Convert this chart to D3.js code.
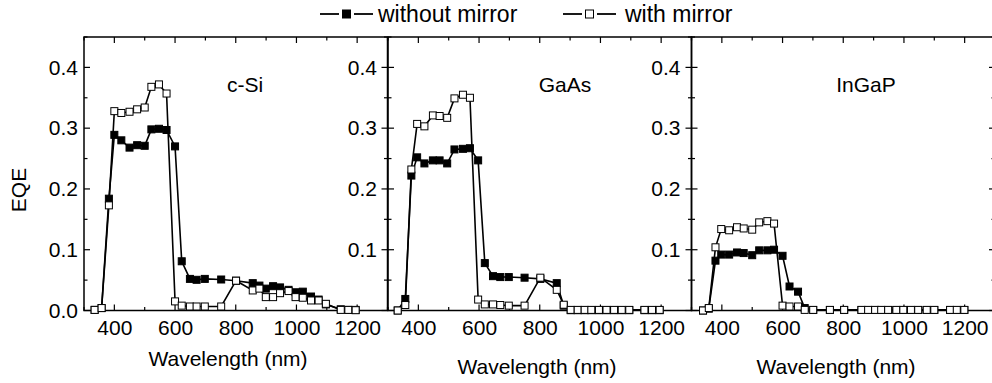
<!DOCTYPE html>
<html>
<head>
<meta charset="utf-8">
<script src="https://cdn.jsdelivr.net/npm/d3@7"></script>
<style>
  html, body { margin: 0; padding: 0; background: #fff; }
  svg { display: block; font-family: "Liberation Sans", Arial, sans-serif; }
  text { fill: #000; }
</style>
</head>
<body>
<svg id="chart" width="992" height="383"></svg>
<script>
// ---------------- DATA ----------------
const panelNames = ["c-Si", "GaAs", "InGaP"];
const seriesNames = ["without mirror", "with mirror"];
const xTickLabels = [400, 600, 800, 1000, 1200];
const yTickLabels = [0.0, 0.1, 0.2, 0.3, 0.4];

// c-Si
const cSiWl = [335, 358, 382, 400, 423, 450, 475, 500, 522, 547, 572, 600, 622, 649, 671, 698, 752, 801, 856, 878, 899, 923, 946, 974, 997, 1021, 1048, 1073, 1097, 1146, 1171, 1195];
const cSiWithout = [0.001, 0.004, 0.184, 0.289, 0.280, 0.268, 0.272, 0.271, 0.298, 0.299, 0.297, 0.270, 0.081, 0.052, 0.0505, 0.052, 0.051, 0.049, 0.045, 0.041, 0.036, 0.040, 0.038, 0.034, 0.030, 0.031, 0.023, 0.018, 0.010, 0.002, 0.001, 0.001];
const cSiWith = [0.001, 0.004, 0.173, 0.328, 0.325, 0.327, 0.331, 0.334, 0.368, 0.372, 0.357, 0.015, 0.008, 0.0066, 0.0066, 0.0066, 0.0066, 0.049, 0.033, 0.036, 0.022, 0.022, 0.0285, 0.032, 0.022, 0.021, 0.0165, 0.0165, 0.011, 0.001, 0.001, 0.0005];

// GaAs
const gaAsWl = [332, 357, 377, 396, 420, 448, 470, 495, 519, 547, 570, 597, 619, 646, 670, 698, 750, 802, 856, 879, 902, 925, 948, 970, 995, 1020, 1045, 1070, 1095, 1145, 1170, 1195];
const gaAsWithout = [0.0, 0.019, 0.222, 0.252, 0.242, 0.247, 0.247, 0.242, 0.265, 0.266, 0.267, 0.247, 0.078, 0.0565, 0.055, 0.055, 0.054, 0.052, 0.045, 0.008, 0.0005, 0.0005, 0.0005, 0.0005, 0.0005, 0.0005, 0.0005, 0.0005, 0.0005, 0.0005, 0.0005, 0.0005];
const gaAsWith = [0.0, 0.009, 0.232, 0.307, 0.303, 0.321, 0.320, 0.317, 0.349, 0.355, 0.350, 0.018, 0.010, 0.010, 0.009, 0.008, 0.008, 0.054, 0.034, 0.0095, 0.001, 0.001, 0.001, 0.001, 0.001, 0.001, 0.001, 0.001, 0.001, 0.001, 0.001, 0.001];

// InGaP
const inGaPWl = [338, 357, 379, 398, 424, 450, 472, 500, 523, 550, 572, 600, 623, 651, 673, 701, 756, 803, 860, 882, 905, 925, 948, 975, 998, 1023, 1047, 1075, 1100, 1152, 1174, 1199];
const inGaPWithout = [0.0, 0.003, 0.082, 0.092, 0.092, 0.0955, 0.0945, 0.091, 0.099, 0.099, 0.100, 0.090, 0.0395, 0.031, 0.004, 0.0008, 0.0008, 0.0008, 0.0008, 0.0008, 0.0008, 0.0008, 0.0008, 0.0008, 0.0008, 0.0008, 0.0008, 0.0008, 0.0008, 0.0008, 0.0008, 0.0008];
const inGaPWith = [0.0, 0.004, 0.104, 0.134, 0.132, 0.137, 0.135, 0.133, 0.145, 0.147, 0.143, 0.008, 0.0066, 0.0066, 0.001, 0.001, 0.001, 0.001, 0.001, 0.001, 0.001, 0.001, 0.001, 0.001, 0.001, 0.001, 0.001, 0.001, 0.001, 0.001, 0.001, 0.001];

// ---------------- BUILD ----------------
const panels = [
  { name: panelNames[0], wl: cSiWl, series: [cSiWithout, cSiWith] },
  { name: panelNames[1], wl: gaAsWl, series: [gaAsWithout, gaAsWith] },
  { name: panelNames[2], wl: inGaPWl, series: [inGaPWithout, inGaPWith] }
];

const svg = d3.select("#chart");
const plotTop = 37, plotBottom = 310.5;
const panelLefts = [84, 388, 691.5];
const panelW = 303.5;
const fs = 21;

const y = d3.scaleLinear().domain([0, 0.45]).range([plotBottom, plotTop]);
const yMinor = d3.range(0, 0.451, 0.05);
const xMinor = d3.range(300, 1301, 100);

const titleLabelPos = [[245, 92], [565, 92], [866, 92]];
const wlLabelPos = [[228, 366], [537, 374], [836, 374]];

panels.forEach((p, i) => {
  const L = panelLefts[i];
  const x = d3.scaleLinear().domain([300, 1300]).range([L, L + panelW]);
  const g = svg.append("g");

  // ticks (inward on all sides)
  const tk = g.append("g").attr("stroke", "#000").attr("stroke-width", 1.2);
  yMinor.forEach(v => {
    const major = Math.abs(v * 10 - Math.round(v * 10)) < 1e-6;
    const len = major ? 6 : 3.5;
    tk.append("line").attr("x1", L).attr("x2", L + len).attr("y1", y(v)).attr("y2", y(v));
    tk.append("line").attr("x1", L + panelW).attr("x2", L + panelW - len).attr("y1", y(v)).attr("y2", y(v));
  });
  xMinor.forEach(v => {
    const major = v % 200 === 0;
    const len = major ? 6 : 3.5;
    tk.append("line").attr("x1", x(v)).attr("x2", x(v)).attr("y1", plotBottom).attr("y2", plotBottom - len);
    tk.append("line").attr("x1", x(v)).attr("x2", x(v)).attr("y1", plotTop).attr("y2", plotTop + len);
  });

  // x tick labels via axis
  const xAxis = d3.axisBottom(x).tickValues(xTickLabels).tickSize(0).tickPadding(0).tickFormat(d3.format("d"));
  const xa = g.append("g").attr("transform", `translate(0,${plotBottom})`).call(xAxis);
  xa.select(".domain").remove();
  xa.selectAll("text").attr("font-size", fs).attr("font-family", "Liberation Sans, Arial, sans-serif")
    .attr("fill", "#000").attr("dy", null).attr("y", 24.5);

  // y tick labels via axis
  const yVals = i === 0 ? yTickLabels : yTickLabels.filter(v => v > 0);
  const yAxis = d3.axisLeft(y).tickValues(yVals).tickSize(0).tickPadding(i === 0 ? 6 : 11).tickFormat(d3.format(".1f"));
  const ya = g.append("g").attr("transform", `translate(${L},0)`).call(yAxis);
  ya.select(".domain").remove();
  ya.selectAll("text").attr("font-size", fs).attr("font-family", "Liberation Sans, Arial, sans-serif").attr("fill", "#000");

  // frame
  g.append("rect").attr("x", L).attr("y", plotTop).attr("width", panelW).attr("height", plotBottom - plotTop)
    .attr("fill", "none").attr("stroke", "#000").attr("stroke-width", 1.5);

  // data
  const line = d3.line().x(d => x(d[0])).y(d => y(d[1]));
  p.series.forEach((vals, s) => {
    const pts = p.wl.map((w, k) => [w, vals[k]]);
    g.append("path").datum(pts).attr("d", line).attr("fill", "none").attr("stroke", "#000").attr("stroke-width", 1.6);
  });
  p.series.forEach((vals, s) => {
    const pts = p.wl.map((w, k) => [w, vals[k]]);
    g.selectAll(null).data(pts).enter().append("rect")
      .attr("x", d => x(d[0]) - 3.5).attr("y", d => y(d[1]) - 3.5)
      .attr("width", 7).attr("height", 7)
      .attr("fill", s === 0 ? "#000" : "#fff")
      .attr("stroke", "#000").attr("stroke-width", 1);
  });

  svg.append("text").attr("x", titleLabelPos[i][0]).attr("y", titleLabelPos[i][1])
    .attr("text-anchor", "middle").attr("font-size", fs).attr("fill", "#000").text(p.name);
  svg.append("text").attr("x", wlLabelPos[i][0]).attr("y", wlLabelPos[i][1])
    .attr("text-anchor", "middle").attr("font-size", fs).attr("fill", "#000").text("Wavelength (nm)");
});

// y label
svg.append("text").attr("transform", "translate(26,190) rotate(-90)")
  .attr("text-anchor", "middle").attr("font-size", fs).attr("fill", "#000").text("EQE");

// legend
const legendItems = [[320, 378], [563, 625]];
seriesNames.forEach((n, s) => {
  const [lx, tx] = legendItems[s];
  const cy = 14;
  svg.append("line").attr("x1", lx).attr("x2", lx + 19).attr("y1", cy).attr("y2", cy)
    .attr("stroke", "#000").attr("stroke-width", 1.8);
  svg.append("line").attr("x1", lx + 34).attr("x2", lx + 53).attr("y1", cy).attr("y2", cy)
    .attr("stroke", "#000").attr("stroke-width", 1.8);
  svg.append("rect").attr("x", lx + 26.5 - 4).attr("y", cy - 4).attr("width", 8).attr("height", 8)
    .attr("fill", s === 0 ? "#000" : "#fff").attr("stroke", "#000").attr("stroke-width", 1);
  svg.append("text").attr("x", tx).attr("y", cy + 8).attr("font-size", 23).attr("fill", "#000").text(n);
});
</script>
</body>
</html>
